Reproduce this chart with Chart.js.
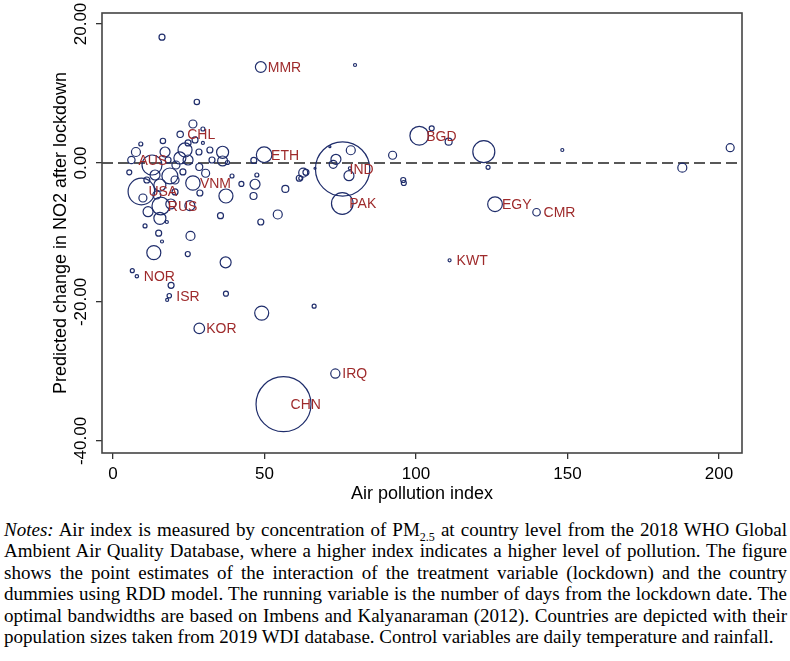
<!DOCTYPE html>
<html>
<head>
<meta charset="utf-8">
<script src="https://cdn.jsdelivr.net/npm/chart.js@4"></script>
<style>
  body{margin:0;background:#fff;}
  #wrap{position:relative;width:790px;height:661px;}
  #chart{position:absolute;left:0;top:0;}
  #notes{position:absolute;left:4px;top:519px;width:783px;font-family:"Liberation Serif","Times New Roman",serif;font-size:19px;line-height:21.4px;color:#000;}
  #notes div{text-align:justify;text-align-last:justify;}
  #notes div.last{text-align-last:left;}
  #notes sub{font-size:12px;line-height:0;}
</style>
</head>
<body>
<div id="wrap">
  <canvas id="chart" width="790" height="510"></canvas>
  <div id="notes">
    <div><i>Notes:</i> Air index is measured by concentration of PM<sub>2.5</sub> at country level from the 2018 WHO Global</div>
    <div>Ambient Air Quality Database, where a higher index indicates a higher level of pollution. The figure</div>
    <div>shows the point estimates of the interaction of the treatment variable (lockdown) and the country</div>
    <div>dummies using RDD model. The running variable is the number of days from the lockdown date. The</div>
    <div>optimal bandwidths are based on Imbens and Kalyanaraman (2012). Countries are depicted with their</div>
    <div class="last">population sizes taken from 2019 WDI database. Control variables are daily temperature and rainfall.</div>
  </div>
</div>
<script>
// Data: air pollution index (x), predicted change in NO2 (y), population in millions, country code label
const codes=['CHN','IND','USA','PAK','BGD','RUS','ETH','EGY','VNM','MMR','KOR','IRQ','CMR','AUS','CHL','ISR','NOR','KWT',
  '','','','','','','','','','','','','','','','','','','','','','','','','','','','','','','','','','','','','','','','','','',
  '','','','','','','','','','','','','','','','','','','','','','','','','','','','','','','','','','','','','','','','','',''];
const airIndex=[56.3,75.8,9.4,75.7,101.1,15.8,49.9,126.1,26.4,48.8,28.5,73.4,139.8,6.1,22.2,18.6,7.9,111.1,
  16.2,27.7,26.4,29.7,16.5,9.2,7.6,12.9,17.2,23.8,22.1,24.8,20.8,28.4,29.7,36.2,36.2,37.8,46.5,47.5,42.4,46.9,46.4,37.3,
  39.3,35.5,48.8,54.4,56.9,62.0,30.6,28.5,5.4,18.8,13.9,15.5,9.9,25.4,11.6,15.5,10.6,17.8,15.1,16.2,25.6,13.5,24.7,37.2,
  6.4,19.2,17.9,37.3,49.1,66.4,79.9,105.2,110.8,122.4,123.8,92.3,148.3,203.7,187.9,95.8,96.0,73.6,72.7,78.5,77.9,71.6,
  78.2,62.8,63.7,61.5,66.7,11.2,14.5,20.5,28.7,32.7,24.8,27.1,23.1,18.2,32.0,19.1,20.5];
const no2Change=[-34.7,-0.86,-4.1,-5.83,3.93,-6.19,1.19,-5.93,-2.88,13.8,-23.8,-30.3,-7.09,0.43,4.13,-19.1,-16.3,-14.0,
  18.1,8.78,5.61,4.89,3.17,2.73,1.58,-0.29,1.58,1.87,0.72,0.43,-0.29,1.58,2.88,1.54,0.29,0.07,0.36,-1.73,-3.02,-3.06,-4.75,-4.75,
  -1.87,-7.58,-8.49,-7.41,-3.74,-2.2,-1.48,-0.58,-1.34,-1.87,-1.73,-3.17,-5.04,-6.14,-7.01,-7.96,-9.06,-8.49,-10.1,-11.3,-10.5,-12.9,-13.1,-14.3,
  -15.5,-17.6,-19.7,-18.8,-21.6,-20.6,14.1,4.99,3.06,1.63,-0.62,1.11,1.87,2.2,-0.68,-2.45,-2.88,0.53,-0.19,1.83,-1.83,2.35,
  -0.76,-1.4,-1.34,-2.2,-0.76,-2.45,-4.6,-4.17,-4.32,0.43,2.88,3.31,-1.29,0.43,1.87,-5.9,-2.45];
const population=[1398,1366,328,217,163,144,112,100,96,54,52,39,26,25,19,9,5.4,4.2,
  16.7,13.5,29.6,7.4,13.5,7.4,37.5,185,46,91,67,46,29.6,16.7,4.2,67,46,7.4,16.7,7.4,11.6,46,22.7,91,
  7.4,16.7,16.7,37.5,22.7,7.4,29.6,22.7,11.6,118,46,67,29.6,46,46,67,7.4,4.2,16.7,4.2,37.5,91,11.6,56,
  7.4,16.7,4.2,11.6,91,7.4,4.2,11.6,22.7,224,7.4,29.6,4.2,29.6,37.5,11.6,11.6,46,29.6,37.5,46,1.9,
  4.2,37.5,16.7,16.7,1.9,16.7,29.6,16.7,16.7,16.7,16.7,16.7,16.7,16.7,16.7,46,29.6];
const xTicks=[0,50,100,150,200];
const yTicks=[-40,-20,0,20];
const xRange=[-3.6,207.6];
const yRange=[-41.73,21.58];

const navy='#1f2d6b', maroon='#9e2a2b';
const sansFont='"Liberation Sans", Arial, Helvetica, sans-serif';

const bubbles=airIndex.map((x,i)=>({x:x,y:no2Change[i],r:Math.sqrt(population[i])*0.735,code:codes[i]}));

const decorations={
  id:'decorations',
  afterDraw(chart){
    const c=chart.ctx, a=chart.chartArea, xs=chart.scales.x, ys=chart.scales.y;
    c.save();
    // frame
    c.strokeStyle='#444'; c.lineWidth=1.6;
    c.strokeRect(a.left,a.top,a.right-a.left,a.bottom-a.top);
    c.fillStyle='#000';
    // x tick labels
    c.font='17px '+sansFont; c.textAlign='center'; c.textBaseline='middle';
    xTicks.forEach(v=>c.fillText(String(v),xs.getPixelForValue(v),a.bottom+21));
    // y tick labels, vertical
    yTicks.forEach(v=>{
      c.save(); c.translate(a.left-21,ys.getPixelForValue(v)); c.rotate(-Math.PI/2);
      c.fillText(v.toFixed(2),0,0); c.restore();
    });
    // axis titles
    c.font='18px '+sansFont;
    c.fillText('Air pollution index',(a.left+a.right)/2,a.bottom+41);
    c.save(); c.translate(a.left-41,(a.top+a.bottom)/2); c.rotate(-Math.PI/2);
    c.fillText('Predicted change in NO2 after lockdown',0,0); c.restore();
    // country labels
    c.font='14px '+sansFont; c.fillStyle=maroon; c.textAlign='left';
    bubbles.forEach(b=>{ if(b.code) c.fillText(b.code,xs.getPixelForValue(b.x)+7,ys.getPixelForValue(b.y)+1); });
    c.restore();
  }
};

new Chart(document.getElementById('chart'),{
  data:{
    datasets:[
      { type:'line', data:[{x:xRange[0],y:0},{x:xRange[1],y:0}], borderColor:'#222', borderWidth:1.3,
        borderDash:[11,5], pointRadius:0, order:2 },
      { type:'bubble', data:bubbles, backgroundColor:'rgba(0,0,0,0)', borderColor:navy, borderWidth:1.2,
        hoverRadius:0, order:1 }
    ]
  },
  options:{
    responsive:false, animation:false, events:[],
    layout:{autoPadding:false,padding:{top:13,right:48,left:0,bottom:0}},
    plugins:{legend:{display:false},tooltip:{enabled:false}},
    scales:{
      x:{type:'linear',min:xRange[0],max:xRange[1],
        ticks:{display:false,stepSize:50,includeBounds:false},
        grid:{drawOnChartArea:false,drawTicks:true,tickLength:6,color:'#333',lineWidth:1.3},
        border:{display:false},
        afterFit(s){s.height=57;}},
      y:{type:'linear',min:yRange[0],max:yRange[1],
        ticks:{display:false,stepSize:20,includeBounds:false},
        grid:{drawOnChartArea:false,drawTicks:true,tickLength:6,color:'#333',lineWidth:1.3},
        border:{display:false},
        afterFit(s){s.width=102;}}
    }
  },
  plugins:[decorations]
});
</script>
</body>
</html>
